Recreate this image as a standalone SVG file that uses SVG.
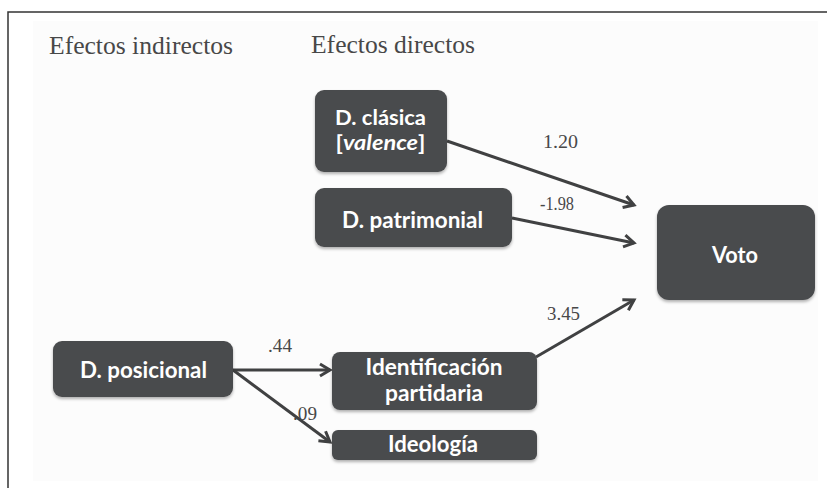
<svg xmlns="http://www.w3.org/2000/svg" width="827" height="488" viewBox="0 0 827 488">
<defs>
<style>
.hdr{font-family:"Liberation Serif",serif;font-size:25px;fill:#484848}
.num{font-family:"Liberation Serif",serif;font-size:18px;fill:#484848}
.box{fill:#4a4b4d}
.lbl{font-family:Lato,"Liberation Sans",sans-serif;font-weight:bold;font-size:22px;fill:#fff;text-anchor:middle}
.sm{font-size:20px}
.edge{stroke:#404142;stroke-width:3;fill:none;marker-end:url(#arr)}
</style>
<filter id="sh" x="-10%" y="-10%" width="120%" height="130%">
<feDropShadow dx="0" dy="2" stdDeviation="1.5" flood-color="#000" flood-opacity="0.3"/>
</filter>
<marker id="arr" markerUnits="userSpaceOnUse" markerWidth="16" markerHeight="16" refX="13" refY="8" orient="auto" viewBox="0 0 16 16">
<path d="M3,2 L13,8 L3,14" fill="none" stroke="#404142" stroke-width="3" stroke-linejoin="miter"/>
</marker>
</defs>
<rect x="0" y="0" width="827" height="488" fill="#fff"/>
<rect x="33" y="21" width="785" height="460" fill="#fcfcfc"/>
<path d="M8,488 L8,12 L827,12" fill="none" stroke="#333" stroke-width="1.5"/>
<text class="hdr" x="49" y="54" textLength="184" lengthAdjust="spacingAndGlyphs">Efectos indirectos</text>
<text class="hdr" x="311" y="53" textLength="164" lengthAdjust="spacingAndGlyphs">Efectos directos</text>
<g id="connectors">
<line class="edge" x1="447" y1="141" x2="634" y2="205"/>
<line class="edge" x1="512" y1="218" x2="634" y2="243"/>
<line class="edge" x1="536" y1="357" x2="634" y2="300"/>
<line class="edge" x1="233" y1="370" x2="330" y2="370"/>
<line class="edge" x1="233" y1="370" x2="330" y2="442"/>
<text class="num" x="543" y="148" textLength="35" lengthAdjust="spacingAndGlyphs">1.20</text>
<text class="num" x="540" y="210" textLength="34" lengthAdjust="spacingAndGlyphs">-1.98</text>
<text class="num" x="547" y="320" textLength="33" lengthAdjust="spacingAndGlyphs">3.45</text>
<text class="num" x="268" y="352" textLength="24" lengthAdjust="spacingAndGlyphs">.44</text>
<text class="num" x="293" y="420" textLength="24" lengthAdjust="spacingAndGlyphs">.09</text>
</g>
<g id="n-clasica">
<rect class="box" filter="url(#sh)" x="315" y="90" width="132" height="82" rx="9"/>
<text class="lbl sm" x="380.5" y="125" textLength="91" lengthAdjust="spacingAndGlyphs">D. clásica</text>
<text class="lbl sm" x="380.5" y="150" textLength="90" lengthAdjust="spacingAndGlyphs">[<tspan font-style="italic">valence</tspan>]</text>
</g>
<g id="n-patrimonial">
<rect class="box" filter="url(#sh)" x="315" y="188" width="197" height="59" rx="9"/>
<text class="lbl" x="412.5" y="228" textLength="141" lengthAdjust="spacingAndGlyphs">D. patrimonial</text>
</g>
<g id="n-voto">
<rect class="box" filter="url(#sh)" x="657" y="205" width="158" height="95" rx="12"/>
<text class="lbl" x="735" y="263" textLength="46" lengthAdjust="spacingAndGlyphs">Voto</text>
</g>
<g id="n-posicional">
<rect class="box" filter="url(#sh)" x="53" y="341" width="180" height="56" rx="9"/>
<text class="lbl" x="143.5" y="378" textLength="127" lengthAdjust="spacingAndGlyphs">D. posicional</text>
</g>
<g id="n-identificacion">
<rect class="box" filter="url(#sh)" x="332" y="352" width="205" height="58" rx="8"/>
<text class="lbl" x="434" y="375" textLength="137" lengthAdjust="spacingAndGlyphs">Identificación</text>
<text class="lbl" x="434" y="401" textLength="98" lengthAdjust="spacingAndGlyphs">partidaria</text>
</g>
<g id="n-ideologia">
<rect class="box" filter="url(#sh)" x="332" y="430" width="205" height="30" rx="6"/>
<text class="lbl" x="433" y="452" textLength="90" lengthAdjust="spacingAndGlyphs">Ideología</text>
</g>
</svg>
